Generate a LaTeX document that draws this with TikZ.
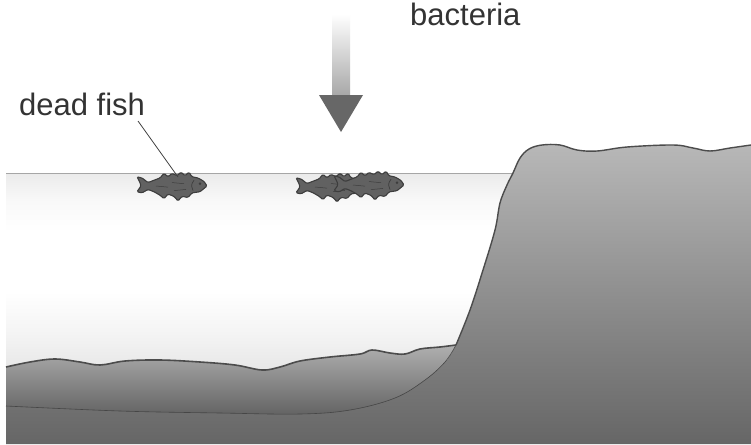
\documentclass[tikz,border=0pt]{standalone}
\usepackage{fontspec}
\setmainfont{Liberation Sans}
\definecolor{watup}{gray}{0.92}
\definecolor{watup2}{gray}{0.975}
\definecolor{watmid}{gray}{0.955}
\definecolor{watlow}{gray}{0.905}
\definecolor{groundtop}{gray}{0.72}
\definecolor{groundbot}{gray}{0.40}
\definecolor{sedtop}{gray}{0.69}
\definecolor{sedbot}{gray}{0.39}
\definecolor{rimline}{gray}{0.30}
\definecolor{fishfill}{gray}{0.38}
\definecolor{fishline}{gray}{0.24}
% water body: greyish at surface and bed, white in between
\pgfdeclareverticalshading{waterbody}{100bp}{color(0bp)=(watlow); color(25bp)=(watlow); color(34bp)=(watmid); color(45bp)=(white); color(60bp)=(white); color(68bp)=(watup2); color(75bp)=(watup); color(100bp)=(watup)}
\tikzset{
  labeltext/.style={font=\fontsize{31}{31}\selectfont, text=black!80, inner sep=0pt},
  pics/fish/.style={code={
    \begin{scope}[yscale=1.15]
    \filldraw[fill=fishfill, draw=fishline, line width=1.1pt, rounded corners=1.2pt]
      (35,0) -- (32,-4) -- (26,-7) -- (20,-8) -- (17,-12) -- (13,-9) -- (9,-12)
      -- (5,-9) -- (0,-11) -- (-4,-8) -- (-8,-11) -- (-12,-7) -- (-18,-5)
      -- (-24,-3) -- (-30,-7) -- (-35,-8) -- (-32,-3) -- (-31,0) -- (-35,5)
      -- (-30,6) -- (-24,3) -- (-18,5) -- (-12,8) -- (-8,11) -- (-4,7)
      -- (2,9) -- (6,13) -- (10,9) -- (16,10) -- (20,6) -- (28,5) -- cycle;
    \draw[fishline, line width=0.7pt] (22,-5) .. controls (19,-1) .. (21,4);
    \fill[fishline] (28,-2) circle (1.3);
    \draw[fishline, line width=0.5pt] (-16,0) -- (-4,1) (0,-3) -- (12,-2) (2,4) -- (14,3);
    \end{scope}
  }}
}
\begin{document}
\begin{tikzpicture}[x=1pt,y=-1pt]
\useasboundingbox (0,0) rectangle (751,444);
\fill[white] (0,0) rectangle (751,444);

% rock: cliff and the ground under the basin
\shade[top color=groundtop, bottom color=groundbot]
  (6,444) -- (6,330) -- plot[smooth, tension=0.6] coordinates {(447,360) (457,343) (470,310) (483,270) (495,230) (500,203) (507,185) (513,173) (520,158) (529,149) (542,145) (560,145) (577,150) (597,151) (627,147) (673,145) (693,148) (710,151) (730,148) (751,145)}
  -- (751,444) -- cycle;

% water body
\shade[shading=waterbody]
  (6,173) -- (513,173) -- plot[smooth, tension=0.6] coordinates {(513,173) (507,185) (500,203) (495,230) (483,270) (470,310) (456,345)}
  -- plot[smooth, tension=0.6] coordinates {(456,345) (440,347) (420,349) (405,354) (390,353) (372,350) (360,354) (330,357) (300,361) (280,367) (262,370) (235,365) (200,362) (160,360) (125,361) (100,365) (80,362) (55,359) (30,362) (6,367)}
  -- cycle;

% sediment lens on the bed
\shade[top color=sedtop, bottom color=sedbot]
  plot[smooth, tension=0.6] coordinates {(6,367) (30,362) (55,359) (80,362) (100,365) (125,361) (160,360) (200,362) (235,365) (262,370) (280,367) (300,361) (330,357) (360,354) (372,350) (390,353) (405,354) (420,349) (440,347) (456,345)}
  -- plot[smooth, tension=0.6] coordinates {(456,345) (445,362) (425,380) (395,398) (350,410) (300,414) (220,413) (120,411) (6,406)}
  -- cycle;
\draw[gray!55!black, line width=0.6pt] plot[smooth, tension=0.6] coordinates {(456,345) (445,362) (425,380) (395,398) (350,410) (300,414) (220,413) (120,411) (6,406)};
\draw[rimline, line width=1.6pt] plot[smooth, tension=0.6] coordinates {(6,367) (30,362) (55,359) (80,362) (100,365) (125,361) (160,360) (200,362) (235,365) (262,370) (280,367) (300,361) (330,357) (360,354) (372,350) (390,353) (405,354) (420,349) (440,347) (456,345)};

% water surface
\draw[gray!70, line width=0.9pt] (6,173) -- (513,173);

% cliff outline
\draw[rimline, line width=1.4pt] plot[smooth, tension=0.6] coordinates {(456,345) (470,310) (483,270) (495,230) (500,203) (507,185) (513,173) (520,158) (529,149) (542,145) (560,145) (577,150) (597,151) (627,147) (673,145) (693,148) (710,151) (730,148) (751,145)};

% fish at the surface
\pic at (172,186) {fish};
\pic at (331,187) {fish};
\pic at (369,185) {fish};
\coordinate (fishmark) at (178,177);

% labels
\node[labeltext, anchor=base west] (bact) at (410,26) {bacteria};
\node[labeltext, anchor=base west] (dead) at (19,115) {dead fish};
\draw[black!75, line width=0.8pt] (138,121) -- (fishmark);

% arrow coming down from the bacteria
\shade[top color=white, bottom color=gray!85!black!60] (332,14) rectangle (350,96);
\fill[gray!60!black!85] (319,95) -- (363,95) -- (341,132) -- cycle;
\end{tikzpicture}
\end{document}
